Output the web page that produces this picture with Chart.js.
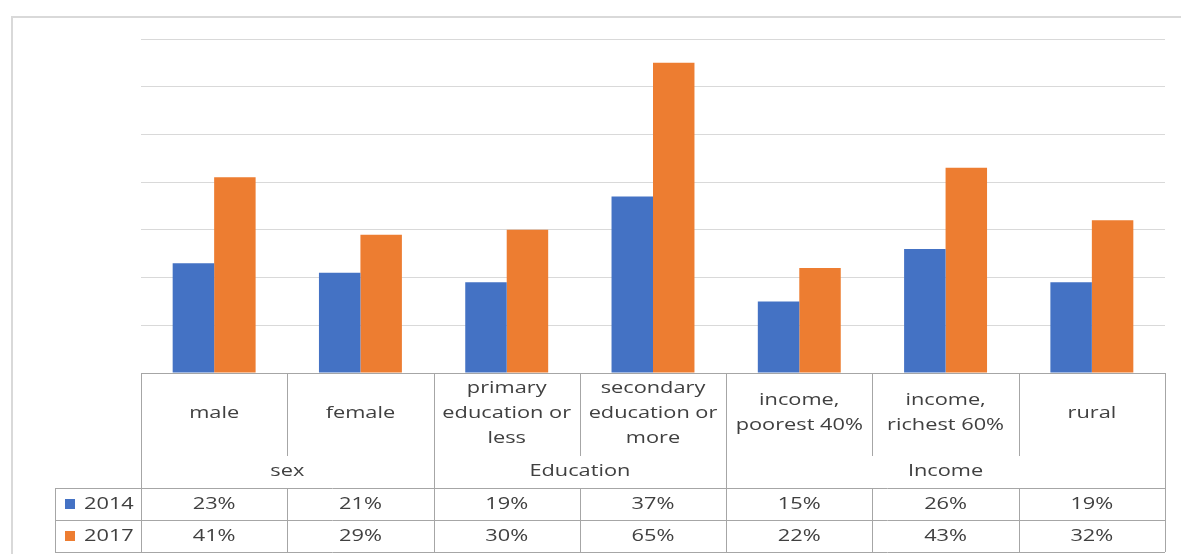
<!DOCTYPE html>
<html>
<head>
<meta charset="utf-8">
<script src="https://cdn.jsdelivr.net/npm/chart.js@4"></script>
<style>
  html, body { margin: 0; padding: 0; background: #fff; }
  #wrap { position: relative; width: 1181px; height: 554px; overflow: hidden; }
  #frame { position: absolute; left: 11px; top: 16px; width: 1200px; height: 600px;
           border-left: 2px solid #d9d9d9; border-top: 2px solid #d9d9d9; }
  canvas { position: absolute; left: 0; top: 0; }
</style>
</head>
<body>
<div id="wrap">
  <div id="frame"></div>
  <canvas id="chart" width="1181" height="554"></canvas>
</div>
<script>
// Chart data
const categories = [
    ['male'],
    ['female'],
    ['primary', 'education or', 'less'],
    ['secondary', 'education or', 'more'],
    ['income,', 'poorest 40%'],
    ['income,', 'richest 60%'],
    ['rural']
];
const groupLabels = ['sex', 'Education', 'Income'];
const groupSpans = [2, 2, 3];
const seriesNames = ['2014', '2017'];
const values2014 = [23, 21, 19, 37, 15, 26, 19];
const values2017 = [41, 29, 30, 65, 22, 43, 32];
const seriesColors = ['#4472c4', '#ed7d31'];

const textColor = '#404040';
const lineColor = '#a6a6a6';
const fontFamily = '"Open Sans", Lato, sans-serif';
const textStretch = 1.28; // the reference text is wide

// Draw text stretched horizontally around its anchor
function drawText(ctx, text, x, y, align) {
    ctx.save();
    ctx.translate(x, y);
    ctx.scale(textStretch, 1);
    ctx.textAlign = align || 'center';
    ctx.fillText(text, 0, 0);
    ctx.restore();
}

// Draws the data table under the plot area
const dataTablePlugin = {
    id: 'dataTable',
    afterDraw(chart) {
        const ctx = chart.ctx;
        const area = chart.chartArea;
        const xScale = chart.scales.x;
        const n = categories.length;

        // category boundaries from the x scale
        const bounds = [area.left];
        for (let i = 0; i < n - 1; i++) {
            bounds.push((xScale.getPixelForValue(i) + xScale.getPixelForValue(i + 1)) / 2);
        }
        bounds.push(area.right);

        const top = area.bottom;
        const catBottom = top + 83;
        const groupBottom = top + 115;
        const row1Bottom = top + 147;
        const row2Bottom = top + 179;
        const legendLeft = 55;

        // group boundary indexes
        const groupEdges = [0];
        groupSpans.forEach(s => groupEdges.push(groupEdges[groupEdges.length - 1] + s));

        ctx.save();
        ctx.strokeStyle = lineColor;
        ctx.lineWidth = 1;
        ctx.beginPath();
        const hline = (x1, x2, y) => { ctx.moveTo(x1, Math.round(y) + 0.5); ctx.lineTo(x2, Math.round(y) + 0.5); };
        const vline = (x, y1, y2) => { ctx.moveTo(Math.round(x) + 0.5, y1); ctx.lineTo(Math.round(x) + 0.5, y2); };

        hline(area.left, area.right, top);
        hline(legendLeft, area.right, groupBottom);
        hline(legendLeft, area.right, row1Bottom);
        hline(legendLeft, area.right, row2Bottom);
        vline(legendLeft, groupBottom, row2Bottom);

        bounds.forEach((x, i) => {
            if (groupEdges.includes(i)) {
                vline(x, top, row2Bottom);
            } else {
                vline(x, top, catBottom);
                vline(x, groupBottom, row2Bottom);
            }
        });
        ctx.stroke();

        ctx.fillStyle = textColor;
        ctx.font = '17px ' + fontFamily;
        ctx.textBaseline = 'middle';

        // category labels
        const lineH = 25;
        categories.forEach((lines, i) => {
            const cx = xScale.getPixelForValue(i);
            const midY = top + 40;
            const startY = midY - (lines.length - 1) * lineH / 2;
            lines.forEach((line, j) => drawText(ctx, line, cx, startY + j * lineH));
        });

        // group labels
        groupLabels.forEach((label, g) => {
            const x1 = bounds[groupEdges[g]];
            const x2 = bounds[groupEdges[g + 1]];
            drawText(ctx, label, (x1 + x2) / 2, top + 98);
        });

        // value rows
        [values2014, values2017].forEach((vals, r) => {
            const y = top + 131 + r * 32;
            vals.forEach((v, i) => drawText(ctx, v + '%', xScale.getPixelForValue(i), y));
            // legend key
            ctx.fillStyle = seriesColors[r];
            ctx.fillRect(65, y - 5, 10, 10);
            ctx.fillStyle = textColor;
            drawText(ctx, seriesNames[r], 84, y, 'left');
        });
        ctx.restore();
    }
};

new Chart(document.getElementById('chart').getContext('2d'), {
    type: 'bar',
    data: {
        labels: categories,
        datasets: [
            { label: seriesNames[0], data: values2014, backgroundColor: seriesColors[0] },
            { label: seriesNames[1], data: values2017, backgroundColor: seriesColors[1] }
        ]
    },
    options: {
        responsive: false,
        animation: false,
        layout: { padding: { left: 141, right: 16, top: 39, bottom: 181 } },
        datasets: { bar: { categoryPercentage: 0.567, barPercentage: 1.0 } },
        plugins: { legend: { display: false }, tooltip: { enabled: false } },
        scales: {
            x: { display: false },
            y: {
                min: 0,
                max: 70,
                ticks: { display: false, stepSize: 10 },
                grid: { color: '#d9d9d9', drawTicks: false },
                border: { display: false }
            }
        }
    },
    plugins: [dataTablePlugin]
});
</script>
</body>
</html>
